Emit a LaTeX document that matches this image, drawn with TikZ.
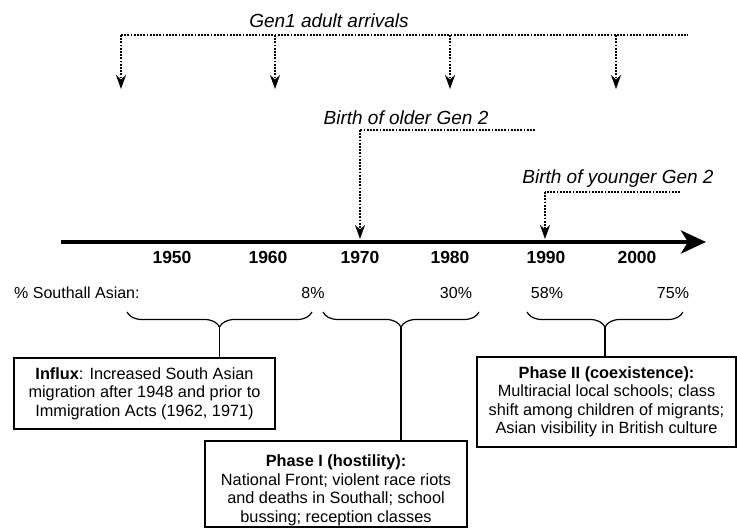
\documentclass[tikz,border=0pt]{standalone}
\usepackage{fontspec}
\setmainfont{Liberation Sans}
\usetikzlibrary{arrows.meta,decorations.pathreplacing}

\begin{document}
\begin{tikzpicture}[x=1pt,y=-1pt,every node/.style={inner sep=0},
  dots/.style={line width=2.2pt,dash pattern=on 1.8pt off 1.4pt},
  drop/.style={dots,-{Stealth[length=14pt,width=10pt,inset=4.5pt]}},
  yr/.style={font=\fontsize{17.5}{20}\selectfont\bfseries},
  pct/.style={font=\fontsize{16}{19}\selectfont},
  lbl/.style={font=\fontsize{19}{22}\selectfont\itshape},
  boxtxt/.style={align=center,font=\fontsize{16.3}{18.5}\selectfont},
  phase/.style={draw,line width=1.5pt,boxtxt},
  brc/.style={decorate,decoration={brace,mirror,amplitude=15pt},line width=1.2pt}]
\useasboundingbox (0,0) rectangle (737,528);

\coordinate (t0) at (61,242);
\coordinate (t1) at (706,242);
\draw[line width=4.5pt,-{Stealth[length=25pt,width=23pt,inset=7pt]}] (t0) -- (t1);

\foreach \yr/\x in {1950/172,1960/268,1970/360,1980/450,1990/546,2000/637}
  \node[yr] (y\yr) at (\x,257) {\yr};

\node[pct,anchor=west] (share) at (14,293) {\% Southall Asian:};
\foreach \p/\x in {8/313,30/456,58/547,75/673}
  \node[pct] (p\p) at (\x,293) {\p\%};

% arrivals
\node[lbl] (gen1) at (329,21) {Gen1 adult arrivals};
\coordinate (a0) at (121,35);
\coordinate (a9) at (688,35);
\draw[dots] (a0) -- (a9);
\foreach \x [count=\i] in {121,275,450,616} {
  \coordinate (u\i) at (\x,35);
  \coordinate (d\i) at (\x,89);
  \draw[drop] (u\i) -- (d\i);
}

% births
\node[lbl] (older) at (406,118) {Birth of older Gen 2};
\coordinate (o1) at (360,130);
\coordinate (o2) at (535,130);
\coordinate (o3) at (360,239);
\draw[dots] (o2) -- (o1);
\draw[drop] (o1) -- (o3);

\node[lbl] (younger) at (618,179) {Birth of younger Gen 2};
\coordinate (g1) at (545,192);
\coordinate (g2) at (680,192);
\coordinate (g3) at (545,239);
\draw[dots] (g2) -- (g1);
\draw[drop] (g1) -- (g3);

% phases
\draw[brc] (127,312) -- (312,312);
\draw[brc] (323,312) -- (479,312);
\draw[brc] (527,312) -- (683,312);
\coordinate (b1) at (219.5,327);
\coordinate (b2) at (401,327);
\coordinate (b3) at (605,327);

\node[phase,minimum width=261pt,minimum height=71pt] (influx) at (144.5,393.5)
  {\textbf{Influx}: Increased South Asian\\migration after 1948 and prior to\\Immigration Acts (1962, 1971)};
\node[draw,line width=1.5pt,minimum width=262pt,minimum height=86pt] (hostile) at (336,484) {};
\node[boxtxt] (hostiletxt) at (336,490.5)
  {\textbf{Phase I (hostility):}\\National Front; violent race riots\\and deaths in Southall; school\\bussing; reception classes};
\node[phase,minimum width=259pt,minimum height=90pt] (coexist) at (606.5,402)
  {\textbf{Phase II (coexistence):}\\Multiracial local schools; class\\shift among children of migrants;\\Asian visibility in British culture};

\draw[line width=1.3pt] (b1) -- (b1 |- influx.north);
\draw[line width=1.3pt] (b2) -- (b2 |- hostile.north);
\draw[line width=1.3pt] (b3) -- (b3 |- coexist.north);
\end{tikzpicture}
\end{document}
